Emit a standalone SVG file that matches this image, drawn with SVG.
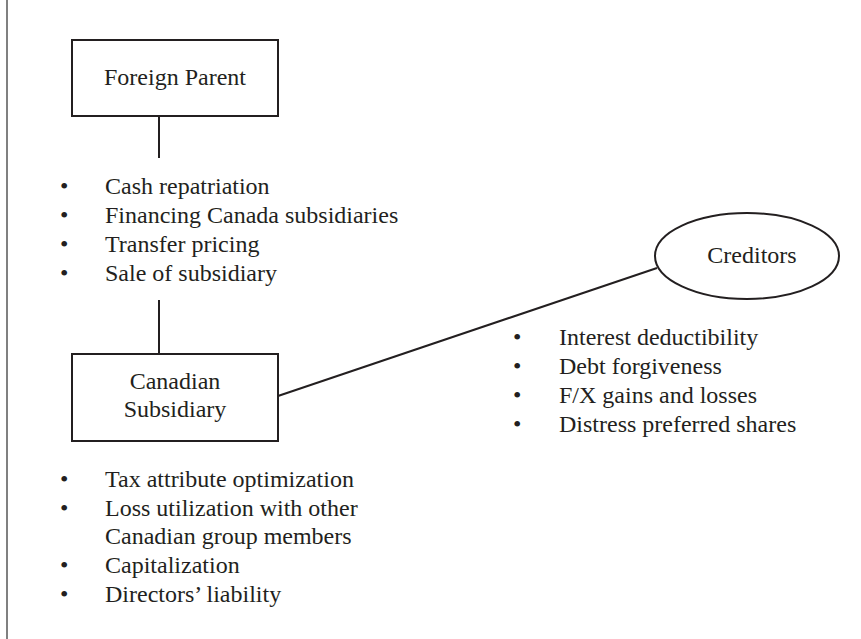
<svg xmlns="http://www.w3.org/2000/svg" width="861" height="639" viewBox="0 0 861 639">
<style>
text{font-family:"Liberation Serif","Times New Roman",serif;font-size:24px;fill:#231f20}
.c{text-anchor:middle}
.box{fill:#fff;stroke:#231f20;stroke-width:2}
.ln{stroke:#231f20;stroke-width:2;fill:none}
</style>
<rect width="861" height="639" fill="#fff"/>
<line x1="7" y1="0" x2="7" y2="639" stroke="#808080" stroke-width="2"/>
<g id="connectors">
<line class="ln" x1="159" y1="116" x2="159" y2="158"/>
<line class="ln" x1="159" y1="300" x2="159" y2="354"/>
<line class="ln" x1="278" y1="396" x2="657" y2="268"/>
</g>
<g id="foreign-parent">
<rect class="box" x="72" y="40" width="206" height="76"/>
<text class="c" x="175" y="85">Foreign Parent</text>
</g>
<g id="canadian-subsidiary">
<rect class="box" x="72" y="354" width="206" height="87"/>
<text class="c" x="175" y="389">Canadian</text>
<text class="c" x="175" y="417">Subsidiary</text>
</g>
<g id="creditors">
<ellipse class="box" cx="747" cy="256" rx="92" ry="43"/>
<text class="c" x="752" y="263">Creditors</text>
</g>
<g id="parent-issues">
<text x="60" y="194">•</text><text x="105" y="194">Cash repatriation</text>
<text x="60" y="223">•</text><text x="105" y="223">Financing Canada subsidiaries</text>
<text x="60" y="252">•</text><text x="105" y="252">Transfer pricing</text>
<text x="60" y="281">•</text><text x="105" y="281">Sale of subsidiary</text>
</g>
<g id="creditor-issues">
<text x="513" y="345">•</text><text x="559" y="345">Interest deductibility</text>
<text x="513" y="374">•</text><text x="559" y="374">Debt forgiveness</text>
<text x="513" y="403">•</text><text x="559" y="403">F/X gains and losses</text>
<text x="513" y="432">•</text><text x="559" y="432">Distress preferred shares</text>
</g>
<g id="subsidiary-issues">
<text x="60" y="487">•</text><text x="105" y="487">Tax attribute optimization</text>
<text x="60" y="516">•</text><text x="105" y="516">Loss utilization with other</text>
<text x="105" y="544">Canadian group members</text>
<text x="60" y="573">•</text><text x="105" y="573">Capitalization</text>
<text x="60" y="602">•</text><text x="105" y="602">Directors’ liability</text>
</g>
</svg>
